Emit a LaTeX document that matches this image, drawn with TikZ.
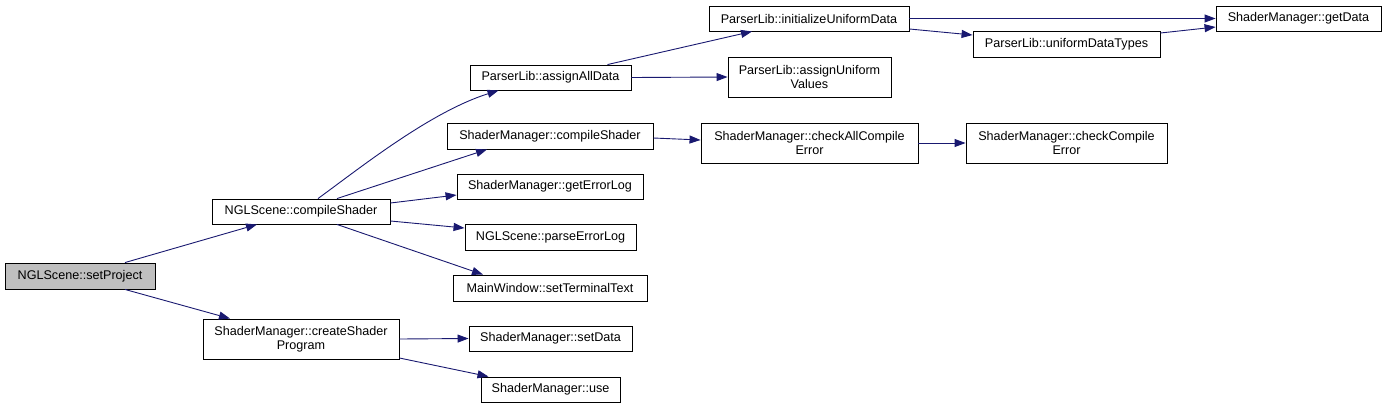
\documentclass[tikz,border=0pt]{standalone}
\usepackage{fontspec}
\setmainfont{Liberation Sans}
\usetikzlibrary{arrows.meta}
\definecolor{edgeblue}{HTML}{191970}
\definecolor{rootgray}{HTML}{BFBFBF}
\tikzset{
  box/.style={draw=black, line width=0.9pt, fill=white, rectangle, inner sep=0pt, align=center,
    font=\fontsize{12.6pt}{14pt}\selectfont},
  rootbox/.style={box, fill=rootgray},
  edge/.style={draw=edgeblue, line width=0.9pt, -{Triangle[length=11pt,width=8pt]}},
}
\begin{document}
\begin{tikzpicture}[x=1pt,y=-1pt]
\useasboundingbox (0,0) rectangle (1387,408);
% nodes
\node[rootbox, minimum width=150pt, minimum height=26pt] (sp) at (80,276) {NGLScene::setProject};
\node[box, minimum width=178pt, minimum height=25pt] (ncs) at (301,211.5) {NGLScene::compileShader};
\node[box, minimum width=196pt, minimum height=40pt] (csp) at (301,339) {ShaderManager::createShader\\Program};
\node[box, minimum width=161pt, minimum height=25pt] (aad) at (550.5,77.5) {ParserLib::assignAllData};
\node[box, minimum width=200pt, minimum height=25pt] (iud) at (809,18.5) {ParserLib::initializeUniformData};
\node[box, minimum width=163pt, minimum height=40pt] (auv) at (809.5,77) {ParserLib::assignUniform\\Values};
\node[box, minimum width=206pt, minimum height=26pt] (smcs) at (550,136) {ShaderManager::compileShader};
\node[box, minimum width=217pt, minimum height=40pt] (cace) at (809.5,143) {ShaderManager::checkAllCompile\\Error};
\node[box, minimum width=186pt, minimum height=25pt] (gel) at (550,186.5) {ShaderManager::getErrorLog};
\node[box, minimum width=171pt, minimum height=26pt] (pel) at (550.5,237) {NGLScene::parseErrorLog};
\node[box, minimum width=194pt, minimum height=26pt] (stt) at (550,288) {MainWindow::setTerminalText};
\node[box, minimum width=163pt, minimum height=25pt] (sd) at (550.5,338.5) {ShaderManager::setData};
\node[box, minimum width=139pt, minimum height=25pt] (use) at (550.5,389.5) {ShaderManager::use};
\node[box, minimum width=165pt, minimum height=25pt] (gd) at (1298.5,18.5) {ShaderManager::getData};
\node[box, minimum width=187pt, minimum height=26pt] (udt) at (1066.5,44) {ParserLib::uniformDataTypes};
\node[box, minimum width=201pt, minimum height=40pt] (cce) at (1066.5,143) {ShaderManager::checkCompile\\Error};
% edges
\draw[edge] ([xshift=45pt]sp.north) -- ([xshift=-44pt]ncs.south);
\draw[edge] ([xshift=45pt]sp.south) -- ([xshift=-71pt]csp.north);
\draw[edge] ([xshift=17pt]ncs.north) .. controls (360,168) and (430,112) .. ([xshift=-52pt]aad.south);
\draw[edge] ([xshift=36pt]ncs.north) -- ([xshift=-63pt]smcs.south);
\draw[edge] ([yshift=8.5pt]ncs.east) -- ([yshift=-8.5pt]gel.west);
\draw[edge] ([yshift=-9.5pt]ncs.east) -- ([yshift=9pt]pel.west);
\draw[edge] ([xshift=36pt]ncs.south) -- ([xshift=-67pt]stt.north);
\draw[edge] (csp.east) -- (sd.west);
\draw[edge] ([yshift=-19pt]csp.east) -- ([xshift=-62pt]use.north);
\draw[edge] ([xshift=57pt]aad.north) -- ([xshift=-57pt]iud.south);
\draw[edge] (aad.east) -- (auv.west);
\draw[edge] (iud.east) -- (gd.west);
\draw[edge] ([yshift=-10.5pt]iud.east) -- ([yshift=9pt]udt.west);
\draw[edge] ([yshift=11pt]udt.east) -- ([yshift=-8.5pt]gd.west);
\draw[edge] ([yshift=-2pt]smcs.east) -- ([yshift=3pt]cace.west);
\draw[edge] (cace.east) -- (cce.west);
\end{tikzpicture}
\end{document}
